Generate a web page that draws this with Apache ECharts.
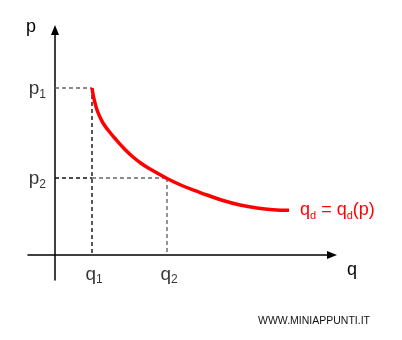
<!DOCTYPE html>
<html>
<head>
<meta charset="utf-8">
<script src="https://cdn.jsdelivr.net/npm/echarts@6/dist/echarts.min.js"></script>
<style>html,body{margin:0;padding:0;background:#fff}#c{width:402px;height:340px}</style>
</head>
<body>
<div id="c"></div>
<script>
// Demand curve q_d = q_d(p) (horizontal: q, vertical: p)
const curveQ = [37, 38, 39.5, 41.7, 44.5, 48, 53, 60, 69, 78, 86, 95, 112, 128, 143, 152, 168, 185, 202, 218, 234];
const curveP = [167, 161, 154, 146, 139, 132, 125, 116.5, 106.5, 98, 91.8, 86, 76.5, 69, 63.3, 60, 54.5, 50, 47, 45.3, 44.7];
const q1 = 37, p1 = 167, q2 = 112, p2 = 77;
const pTickValues = [p1, p2];
const pTickSubs = ['1', '2'];
const qTickValues = [q1, q2];
const qTickSubs = ['1', '2'];
const curveName = 'q_d = q_d(p)';
const watermark = 'WWW.MINIAPPUNTI.IT';

const FONT = 'Liberation Sans, Arial, sans-serif';
const chart = echarts.init(document.getElementById('c'), null, {renderer: 'canvas'});

const curveData = curveQ.map((q, i) => [q, curveP[i]]);

const dashed = (pts, color) => ({
  type: 'line', data: pts, symbol: 'none', silent: true,
  lineStyle: {color: color, width: 1.4, type: [4, 3]}, z: 1
});

const tickRich = {
  m: {fontSize: 19, color: '#000', fontFamily: FONT},
  s: {fontSize: 12, color: '#000', fontFamily: FONT, padding: [11, 0, 0, 0]}
};

chart.setOption({
  animation: false,
  backgroundColor: '#fff',
  title: {
    text: watermark, left: 253, top: 311,
    textStyle: {fontSize: 10.5, fontWeight: 'normal', color: '#111', fontFamily: FONT}
  },
  grid: {left: 28, right: 70, top: 30, bottom: 60},
  xAxis: {
    type: 'value', min: -27, max: 277,
    name: 'q', nameLocation: 'end', nameGap: 15,
    nameTextStyle: {fontSize: 18, color: '#000', fontFamily: FONT, verticalAlign: 'top', padding: [6, 0, 0, 0]},
    axisLine: {onZero: true, symbol: ['none', 'triangle'], symbolSize: [8, 10], lineStyle: {color: '#000', width: 1.5}},
    axisTick: {show: false}, axisLabel: {show: false}, splitLine: {show: false}
  },
  yAxis: {
    type: 'value', min: -25, max: 225,
    name: 'p', nameLocation: 'end', nameGap: -6,
    nameTextStyle: {fontSize: 18, color: '#000', fontFamily: FONT, align: 'right', padding: [0, 19, 0, 0]},
    axisLine: {onZero: true, symbol: ['none', 'triangle'], symbolSize: [8, 10], lineStyle: {color: '#000', width: 1.5}},
    axisTick: {show: false}, axisLabel: {show: false}, splitLine: {show: false}
  },
  series: [
    dashed([[0, p1], [q1, p1]], '#666'),
    dashed([[q1, p1], [q1, 0]], '#111'),
    dashed([[0, p2], [q1, p2]], '#111'),
    dashed([[q1, p2], [q2, p2]], '#666'),
    dashed([[q2, p2], [q2, 0]], '#666'),
    {
      type: 'line', data: curveData, smooth: 0.4, symbol: 'none',
      lineStyle: {color: '#ff0000', width: 3.5, cap: 'butt', join: 'round'}, z: 3, silent: true,
      endLabel: {
        show: true, distance: 11,
        formatter: '{m|q}{s|d}{m| = q}{s|d}{m|(p)}',
        rich: {
          m: {fontSize: 18, color: '#ff0000', fontFamily: FONT},
          s: {fontSize: 11, color: '#ff0000', fontFamily: FONT, padding: [11, 0, 0, 0]}
        }
      }
    },
    {
      type: 'scatter', symbolSize: 0, silent: true,
      data: pTickValues.map((v, i) => ({value: [0, v], label: {formatter: '{m|p}{s|' + pTickSubs[i] + '}'}})),
      label: {show: true, position: 'left', distance: 9, offset: [0, 1], rich: tickRich}
    },
    {
      type: 'scatter', symbolSize: 0, silent: true,
      data: qTickValues.map((v, i) => ({value: [v, 0], label: {formatter: '{m|q}{s|' + qTickSubs[i] + '}'}})),
      label: {show: true, position: 'bottom', distance: 8, offset: [2, 0], rich: tickRich}
    }
  ]
});
</script>
</body>
</html>
